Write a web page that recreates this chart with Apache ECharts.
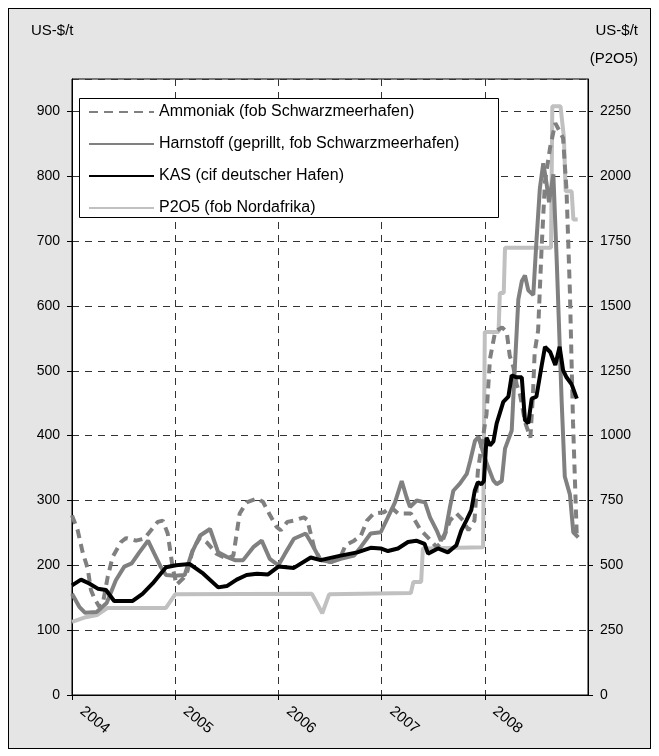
<!DOCTYPE html>
<html>
<head>
<meta charset="utf-8">
<script src="https://cdn.jsdelivr.net/npm/echarts@6/dist/echarts.min.js"></script>
<style>
html,body{margin:0;padding:0;background:#fff;}
#frame{position:absolute;left:8px;top:8px;width:641px;height:739px;background:#e5e5e5;border:1px solid #000;}
#chart{position:absolute;left:0;top:0;width:659px;height:756px;}
</style>
</head>
<body>
<div id="frame"></div>
<div id="chart"></div>
<script>
// x values: months since January 2004
const yearLabels = ['2004', '2005', '2006', '2007', '2008'];
const seriesNames = [
  'Ammoniak (fob Schwarzmeerhafen)',
  'Harnstoff (geprillt, fob Schwarzmeerhafen)',
  'KAS (cif deutscher Hafen)',
  'P2O5 (fob Nordafrika)'
];

const ammoniakMonths = [0,0.66,1.24,1.83,2.2,2.6,3.17,3.57,4.15,4.73,5.7,6.28,7.44,8.4,9.19,9.97,10.55,11.13,11.7,12.15,12.94,13.34,14.07,14.9,15.7,16.8,18.0,18.76,19.5,20.3,21.5,22.2,23.0,23.8,24.27,25.03,25.8,26.98,27.36,28.14,28.9,30.1,31.2,31.8,32.8,33.6,34.3,35.1,36.3,37.06,37.9,39.4,40.5,41.6,42.4,43.1,43.95,44.7,45.5,46.1,46.45,46.8,47.2,47.6,48.2,48.6,49.2,50.0,50.55,50.9,51.3,51.7,52.1,52.7,53.3,53.6,53.8,54.2,54.6,55.0,55.6,56.2,57.1,57.5,57.9,58.26,58.7];
const ammoniakValues = [277,254,220,195,162,149,136,140,182,213,236,242,238,241,254,267,269,249,197,170,180,187,225,243,235,218,210,215,280,297,303,298,278,259,254,267,269,274,270,228,208,205,212,231,238,246,269,280,282,290,280,280,255,240,228,238,269,280,269,254,262,269,346,382,433,518,560,567,560,523,507,479,463,420,397,463,529,562,688,792,845,882,859,779,620,420,243];

const harnstoffMonths = [0,0.85,1.5,2.87,4.03,5.1,6.08,6.94,7.83,8.84,9.57,10.35,10.93,12.0,13.1,13.95,14.9,16.05,17.0,18.0,18.95,19.9,21.08,22.06,23.0,24.0,24.77,25.8,27.17,27.76,28.9,30.1,31.24,32.8,33.57,34.73,35.9,36.66,37.56,38.34,38.9,39.3,40.08,41.05,41.63,42.4,42.9,43.4,43.95,44.34,45.1,45.9,46.3,46.86,47.27,47.56,48.14,48.99,49.38,49.97,50.35,51.13,51.5,51.9,52.3,52.67,53.06,53.64,54.0,54.4,54.8,55.17,55.47,55.97,56.36,56.94,57.3,57.9,58.29,58.87];
const harnstoffValues = [156,136,127,128,142,177,198,203,220,238,218,197,185,184,185,220,246,256,220,213,208,208,228,238,210,200,218,241,249,236,208,205,210,215,228,249,251,272,297,330,305,290,300,297,274,254,238,250,290,315,326,341,361,392,398,385,360,331,325,330,380,408,507,610,638,647,624,617,699,781,820,790,760,803,671,452,337,309,251,243];

const kasMonths = [0,1.05,2.0,3.0,3.95,4.9,7.06,8.2,9.38,10.93,12.1,13.7,15.27,17.0,18.0,19.15,20.3,21.5,22.8,24.0,25.8,27.76,28.9,31.24,33.17,34.73,35.9,36.74,37.9,39.07,40.03,41.0,41.4,42.56,43.7,44.7,45.27,45.85,46.43,46.83,47.2,47.6,47.9,48.2,48.6,49.0,49.38,50.15,50.74,51.13,51.7,52.3,52.67,53.06,53.45,54.0,54.6,55.0,55.6,56.2,56.7,57.1,57.5,58.1,58.7];
const kasValues = [169,178,172,164,162,145,145,156,172,197,200,202,187,166,168,178,185,187,186,198,196,212,208,215,220,227,226,222,226,236,238,233,218,226,220,231,254,269,285,315,328,325,330,397,385,391,419,452,460,493,490,490,424,419,457,460,507,537,529,509,537,501,490,479,457];

// P2O5 is read on the right axis
const p2o5Months = [0,1.6,2.9,4.1,10.9,12.0,27.9,29.1,29.9,39.4,39.7,40.6,40.8,47.8,48.0,49.6,49.75,50.2,50.35,55.7,55.85,56.8,57.2,57.4,58.1,58.3,58.8];
const p2o5Values = [282,300,308,335,335,388,390,315,388,393,436,436,565,570,1400,1400,1550,1550,1724,1724,2270,2270,2150,1942,1942,1833,1833];

function pairs(xs, ys) {
  const n = Math.min(xs.length, ys.length);
  const out = [];
  for (let i = 0; i < n; i++) out.push([xs[i], ys[i]]);
  return out;
}

const FONT = "'Liberation Sans', Arial, sans-serif";
const chart = echarts.init(document.getElementById('chart'), null, {renderer: 'canvas'});

const option = {
  animation: false,
  backgroundColor: 'transparent',
  grid: {
    left: 72, right: 71, top: 79, bottom: 61,
    show: true, backgroundColor: '#fff', borderColor: '#000', borderWidth: 1
  },
  xAxis: {
    type: 'value', min: 0, max: 60, interval: 12,
    axisLine: {show: true, lineStyle: {color: '#000', width: 1}},
    axisTick: {show: true, length: 5, lineStyle: {color: '#000'}},
    axisLabel: {
      rotate: -40, margin: 6, padding: [0, 0, 0, 13], fontSize: 15, fontFamily: FONT, color: '#000',
      showMaxLabel: false,
      formatter: function (v) { const i = Math.round(v / 12); return i < yearLabels.length ? yearLabels[i] : ''; }
    },
    splitLine: {show: true, lineStyle: {color: '#333', type: [7, 6], width: 1}}
  },
  yAxis: [{
    type: 'value', min: 0, max: 950, interval: 100, position: 'left',
    axisLine: {show: true, lineStyle: {color: '#000'}},
    axisTick: {show: true, length: 5, lineStyle: {color: '#000'}},
    axisLabel: {margin: 12, fontSize: 14, fontFamily: FONT, color: '#000', showMaxLabel: false,
      formatter: function (v) { return String(v); }},
    splitLine: {show: true, lineStyle: {color: '#333', type: [7, 6], width: 1}}
  }, {
    type: 'value', min: 0, max: 2375, interval: 250, position: 'right',
    axisLine: {show: true, lineStyle: {color: '#000'}},
    axisTick: {show: true, length: 5, lineStyle: {color: '#000'}},
    axisLabel: {margin: 12, fontSize: 14, fontFamily: FONT, color: '#000', showMaxLabel: false,
      formatter: function (v) { return String(v); }},
    splitLine: {show: false}
  }],
  legend: {
    orient: 'vertical', left: 88, top: 104, padding: 0,
    itemWidth: 65, itemHeight: 14, itemGap: 16, z: 120,
    itemStyle: {opacity: 0},
    textStyle: {fontSize: 16, fontFamily: FONT, color: '#000'},
    data: seriesNames
  },
  graphic: [
    {type: 'rect', z: 100, shape: {x: 79.5, y: 98.5, width: 419, height: 119},
     style: {fill: '#fff', stroke: '#000', lineWidth: 1}},
    {type: 'text', z: 100, x: 31, y: 31,
     style: {text: 'US-$/t', fontSize: 15, fontFamily: FONT, fill: '#000', verticalAlign: 'middle'}},
    {type: 'text', z: 100, x: 638, y: 31,
     style: {text: 'US-$/t', fontSize: 15, fontFamily: FONT, fill: '#000', align: 'right', verticalAlign: 'middle'}},
    {type: 'text', z: 100, x: 638, y: 59,
     style: {text: '(P2O5)', fontSize: 15, fontFamily: FONT, fill: '#000', align: 'right', verticalAlign: 'middle'}}
  ],
  series: [{
    name: seriesNames[0], type: 'line', symbol: 'none', yAxisIndex: 0, z: 3,
    lineStyle: {color: '#808080', width: 4, type: [9, 6]},
    itemStyle: {color: '#808080'},
    data: pairs(ammoniakMonths, ammoniakValues)
  }, {
    name: seriesNames[1], type: 'line', symbol: 'none', yAxisIndex: 0, z: 4,
    lineStyle: {color: '#808080', width: 4},
    itemStyle: {color: '#808080'},
    data: pairs(harnstoffMonths, harnstoffValues)
  }, {
    name: seriesNames[2], type: 'line', symbol: 'none', yAxisIndex: 0, z: 6,
    lineStyle: {color: '#000', width: 4},
    itemStyle: {color: '#000'},
    data: pairs(kasMonths, kasValues)
  }, {
    name: seriesNames[3], type: 'line', symbol: 'none', yAxisIndex: 1, z: 2,
    lineStyle: {color: '#c0c0c0', width: 4},
    itemStyle: {color: '#c0c0c0'},
    data: pairs(p2o5Months, p2o5Values)
  }]
};
chart.setOption(option);
</script>
</body>
</html>
